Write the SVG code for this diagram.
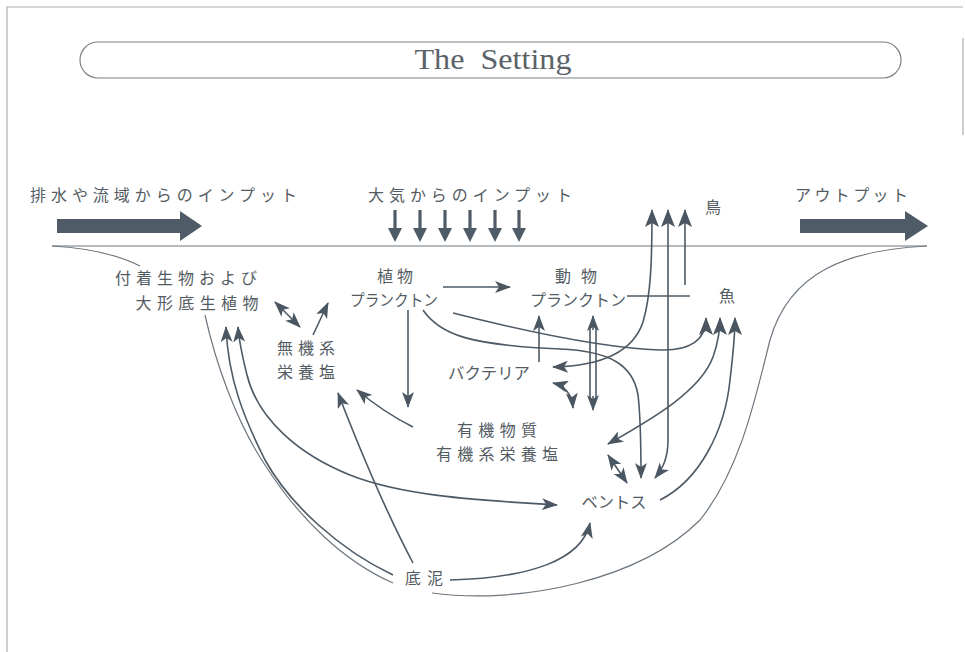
<svg xmlns="http://www.w3.org/2000/svg" width="965" height="652" viewBox="0 0 965 652">
<style>
.t{font-family:"Noto Sans CJK JP","Noto Sans",sans-serif;font-size:16px;fill:#545c63;}
.c{fill:none;stroke:#4d5a65;stroke-width:1.6;}
.b{fill:none;stroke:#6d767e;stroke-width:1.2;}
.big{fill:#4f5c67;}
.frame{fill:none;stroke:#a9adb1;stroke-width:1.2;}
</style>
<defs>
<marker id="ah" viewBox="0 0 16 12" refX="15" refY="6" markerWidth="16" markerHeight="12" markerUnits="userSpaceOnUse" orient="auto-start-reverse">
<path d="M0,0 L16,6 L0,12 L4,6 z" fill="#4a5762"/>
</marker>
<marker id="ahL" viewBox="0 0 18 14" refX="17" refY="7" markerWidth="18" markerHeight="14" markerUnits="userSpaceOnUse" orient="auto-start-reverse">
<path d="M0,0 L18,7 L0,14 L4,7 z" fill="#4a5762"/>
</marker>
<path id="dn" d="M-1.6,0 L1.6,0 L1.6,18 L7,18 L0,32 L-7,18 L-1.6,18 z" fill="#4f5c67"/>
</defs>
<rect x="0" y="0" width="965" height="652" fill="#ffffff"/>
<path class="frame" d="M7,652 L7,7 L963,7 M963,38 L963,135"/>

<g id="title">
<rect x="80" y="42" width="821" height="36" rx="18" ry="18" fill="none" stroke="#7b8288" stroke-width="1.2"/>
<text x="493" y="69" text-anchor="middle" font-family="Liberation Serif, serif" font-size="29" fill="#5b6268" textLength="157" lengthAdjust="spacingAndGlyphs" xml:space="preserve">The  Setting</text>
</g>

<g id="basin">
<path class="b" d="M52,246 L927,246"/>
<path class="b" d="M52,246 C90,248 120,256 140,266"/>
<path class="b" d="M205,315 C215,360 235,420 265,465 C300,520 345,562 393,583"/>
<path class="b" d="M432,593 C520,605 640,580 700,520 C740,470 755,400 770,340 C790,270 850,250 927,246"/>
</g>

<g id="input-runoff">
<text class="t" x="30" y="201" textLength="267" lengthAdjust="spacing">排水や流域からのインプット</text>
<polygon class="big" points="57,219 180,219 180,211 202,226 180,241 180,233 57,233"/>
</g>

<g id="input-atmosphere">
<text class="t" x="368" y="201" textLength="204" lengthAdjust="spacing">大気からのインプット</text>
<use href="#dn" x="395" y="210"/>
<use href="#dn" x="420" y="210"/>
<use href="#dn" x="445" y="210"/>
<use href="#dn" x="470" y="210"/>
<use href="#dn" x="495" y="210"/>
<use href="#dn" x="519" y="210"/>
</g>

<g id="output">
<text class="t" x="795" y="201" textLength="113" lengthAdjust="spacing">アウトプット</text>
<polygon class="big" points="800,219 905,219 905,211 928,226 905,241 905,233 800,233"/>
</g>

<g id="bird"><text class="t" x="713" y="213" text-anchor="middle">鳥</text></g>
<g id="fish"><text class="t" x="727" y="302" text-anchor="middle">魚</text></g>
<g id="periphyton">
<text class="t" x="186" y="284" text-anchor="middle" textLength="142" lengthAdjust="spacing">付着生物および</text>
<text class="t" x="197" y="309" text-anchor="middle" textLength="123" lengthAdjust="spacing">大形底生植物</text>
</g>
<g id="phytoplankton">
<text class="t" x="395" y="282" text-anchor="middle" textLength="36" lengthAdjust="spacing">植物</text>
<text class="t" x="394" y="306" text-anchor="middle" textLength="88" lengthAdjust="spacingAndGlyphs">プランクトン</text>
</g>
<g id="zooplankton">
<text class="t" x="576" y="282" text-anchor="middle" textLength="42" lengthAdjust="spacing">動物</text>
<text class="t" x="578" y="306" text-anchor="middle" textLength="96" lengthAdjust="spacingAndGlyphs">プランクトン</text>
</g>
<g id="inorganic">
<text class="t" x="306" y="354" text-anchor="middle" textLength="58" lengthAdjust="spacing">無機系</text>
<text class="t" x="306" y="378" text-anchor="middle" textLength="58" lengthAdjust="spacing">栄養塩</text>
</g>
<g id="bacteria"><text class="t" x="489" y="379" text-anchor="middle" textLength="82" lengthAdjust="spacingAndGlyphs">バクテリア</text></g>
<g id="organic">
<text class="t" x="497" y="436" text-anchor="middle" textLength="80" lengthAdjust="spacing">有機物質</text>
<text class="t" x="497" y="460" text-anchor="middle" textLength="122" lengthAdjust="spacing">有機系栄養塩</text>
</g>
<g id="benthos"><text class="t" x="614" y="508" text-anchor="middle" textLength="65" lengthAdjust="spacingAndGlyphs">ベントス</text></g>
<g id="sediment"><text class="t" x="424" y="584" text-anchor="middle" textLength="38" lengthAdjust="spacing">底泥</text></g>

<g id="connectors">
<path class="c" d="M443,287 L510,287" marker-end="url(#ah)"/>
<path class="c" d="M408,310 L408,407" marker-end="url(#ah)"/>
<path class="c" d="M413,427 C395,418 375,405 357,390" marker-end="url(#ah)"/>
<path class="c" d="M413,563 C385,510 360,450 338,393" marker-end="url(#ah)"/>
<path class="c" d="M275,302 L300,327" marker-start="url(#ah)" marker-end="url(#ah)"/>
<path class="c" d="M313,335 L328,303" marker-end="url(#ah)"/>
<path class="c" d="M393,575 C340,550 290,505 265,460 C245,420 228,380 226,327" marker-end="url(#ah)"/>
<path class="c" d="M557,505 C470,500 400,495 350,475 C300,455 258,420 247,375 C242,355 239,340 238,327" marker-start="url(#ah)" marker-end="url(#ah)"/>
<path class="c" d="M450,580 C530,578 582,560 590,523" marker-end="url(#ah)"/>
<path class="c" d="M608,455 L627,483" marker-start="url(#ah)" marker-end="url(#ah)"/>
<path class="c" d="M539,362 L539,316" marker-end="url(#ah)"/>
<path class="c" d="M590,325 L590,400" stroke-width="1.2"/>
<path class="c" d="M596,325 L596,400" stroke-width="1.2"/>
<path class="c" d="M593,330 L593,316" stroke-width="1" marker-end="url(#ah)"/>
<path class="c" d="M593,396 L593,410" stroke-width="1" marker-end="url(#ah)"/>
<path class="c" d="M553,383 C565,386 572,395 573,408" marker-start="url(#ah)" marker-end="url(#ah)"/>
<path class="c" d="M423,310 C440,335 470,345 560,349 C610,351 633,365 638,395 C641,420 641,450 641,478" marker-end="url(#ah)"/>
<path class="c" d="M453,313 C520,330 600,348 660,350 C690,351 706,340 706,318" marker-end="url(#ahL)"/>
<path class="c" d="M608,444 C650,420 700,392 713,357 C719,340 720,330 720,318" marker-start="url(#ah)" marker-end="url(#ahL)"/>
<path class="c" d="M660,500 C700,480 725,430 730,380 C733,355 735,335 735,318" marker-end="url(#ahL)"/>
<path class="c" d="M553,367 C600,366 633,352 643,322 C651,295 652,260 652,210" marker-start="url(#ah)" marker-end="url(#ahL)"/>
<path class="c" d="M655,478 C663,468 668,458 668,440 L668,210" marker-start="url(#ah)" marker-end="url(#ahL)"/>
<path class="c" d="M685,285 L685,210" marker-end="url(#ahL)"/>
<path class="c" d="M627,296 L690,296"/>
</g>
</svg>
